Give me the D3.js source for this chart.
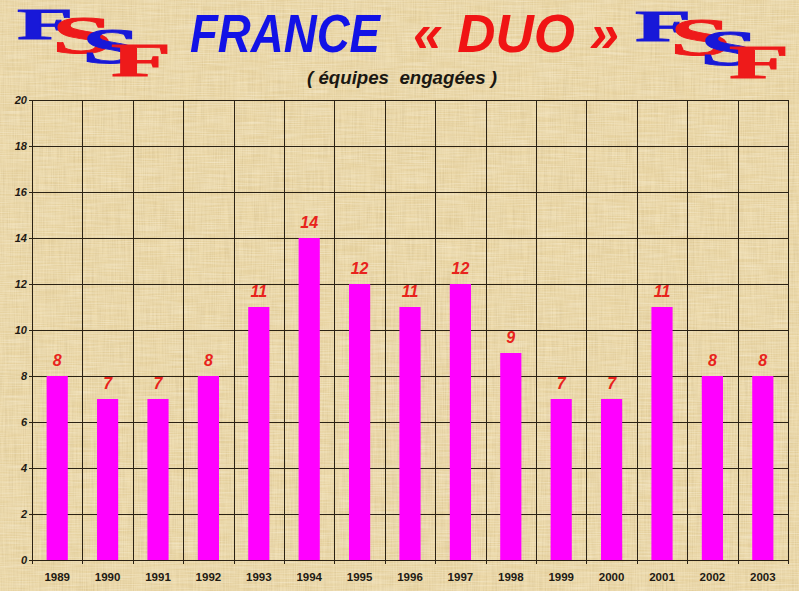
<!DOCTYPE html>
<html>
<head>
<meta charset="utf-8">
<script src="https://cdn.jsdelivr.net/npm/d3@7"></script>
<style>
  html, body { margin: 0; padding: 0; background: #e9d6a8; }
  svg { display: block; }
</style>
</head>
<body>
<div id="chart"></div>
<script>
// data
const years = ["1989", "1990", "1991", "1992", "1993", "1994", "1995", "1996",
               "1997", "1998", "1999", "2000", "2001", "2002", "2003"];
const teams = [8, 7, 7, 8, 11, 14, 12, 11, 12, 9, 7, 7, 11, 8, 8];
const yTicks = [0, 2, 4, 6, 8, 10, 12, 14, 16, 18, 20];

const width = 799, height = 591;
const margin = {top: 100, right: 11, bottom: 31, left: 32};

const svg = d3.select("#chart").append("svg")
    .attr("width", width)
    .attr("height", height);

// papyrus background
const defs = svg.append("defs");
const fib = defs.append("filter").attr("id", "fibres")
    .attr("x", 0).attr("y", 0).attr("width", "100%").attr("height", "100%");
fib.append("feTurbulence")
    .attr("type", "fractalNoise")
    .attr("baseFrequency", "0.9 0.03")
    .attr("numOctaves", 2)
    .attr("seed", 3);
fib.append("feColorMatrix")
    .attr("values", "0 0 0 0 0.55  0 0 0 0 0.42  0 0 0 0 0.2  0 0 0 -1.6 1.1");
const fib2 = defs.append("filter").attr("id", "fibres2")
    .attr("x", 0).attr("y", 0).attr("width", "100%").attr("height", "100%");
fib2.append("feTurbulence")
    .attr("type", "fractalNoise")
    .attr("baseFrequency", "0.03 0.9")
    .attr("numOctaves", 2)
    .attr("seed", 7);
fib2.append("feColorMatrix")
    .attr("values", "0 0 0 0 1  0 0 0 0 0.96  0 0 0 0 0.85  0 0 0 -1.6 1.1");

svg.append("rect").attr("width", width).attr("height", height).attr("fill", "#ebd7a6");
svg.append("rect").attr("width", width).attr("height", height)
    .attr("filter", "url(#fibres)").attr("opacity", 0.35);
svg.append("rect").attr("width", width).attr("height", height)
    .attr("filter", "url(#fibres2)").attr("opacity", 0.4);

// scales
const x = d3.scaleBand()
    .domain(years)
    .range([margin.left, width - margin.right])
    .paddingInner(0).paddingOuter(0);

const y = d3.scaleLinear()
    .domain([0, 20])
    .range([height - margin.bottom, margin.top]);

const gridColor = "#2b2214";

// horizontal grid
svg.append("g")
    .selectAll("line")
    .data(yTicks)
    .join("line")
    .attr("x1", margin.left - 3)
    .attr("x2", width - margin.right)
    .attr("y1", d => Math.round(y(d)) + 0.5)
    .attr("y2", d => Math.round(y(d)) + 0.5)
    .attr("stroke", gridColor)
    .attr("stroke-width", 1);

// vertical grid at band edges
const edges = years.map(d => x(d)).concat([width - margin.right]);
svg.append("g")
    .selectAll("line")
    .data(edges)
    .join("line")
    .attr("x1", d => Math.round(d) + 0.5)
    .attr("x2", d => Math.round(d) + 0.5)
    .attr("y1", margin.top)
    .attr("y2", height - margin.bottom + 4)
    .attr("stroke", gridColor)
    .attr("stroke-width", 1);

// bars
const barW = x.bandwidth() * 0.42;
svg.append("g")
    .selectAll("rect")
    .data(teams)
    .join("rect")
    .attr("x", (d, i) => x(years[i]) + (x.bandwidth() - barW) / 2)
    .attr("y", d => y(d))
    .attr("width", barW)
    .attr("height", d => y(0) - y(d))
    .attr("fill", "#ff00ff");

// value labels
svg.append("g")
    .selectAll("text")
    .data(teams)
    .join("text")
    .attr("x", (d, i) => x(years[i]) + x.bandwidth() / 2)
    .attr("y", d => y(d) - 10)
    .attr("text-anchor", "middle")
    .attr("font-family", "Liberation Sans, Arial, sans-serif")
    .attr("font-weight", "bold")
    .attr("font-style", "italic")
    .attr("font-size", 16)
    .attr("fill", "#e8231c")
    .text(d => d);

// y axis labels
svg.append("g")
    .selectAll("text")
    .data(yTicks)
    .join("text")
    .attr("x", margin.left - 5)
    .attr("y", d => y(d) + 4)
    .attr("text-anchor", "end")
    .attr("font-family", "Liberation Sans, Arial, sans-serif")
    .attr("font-weight", "bold")
    .attr("font-style", "italic")
    .attr("font-size", 11)
    .attr("fill", "#1e1a14")
    .text(d => d);

// x axis labels
svg.append("g")
    .selectAll("text")
    .data(years)
    .join("text")
    .attr("x", d => x(d) + x.bandwidth() / 2)
    .attr("y", height - margin.bottom + 21)
    .attr("text-anchor", "middle")
    .attr("font-family", "Liberation Sans, Arial, sans-serif")
    .attr("font-weight", "bold")
    .attr("font-size", 11.5)
    .attr("fill", "#1e1a14")
    .text(d => d);

// title
svg.append("text")
    .attr("x", 190).attr("y", 52)
    .attr("font-family", "Liberation Sans, Arial, sans-serif")
    .attr("font-weight", "bold").attr("font-style", "italic")
    .attr("font-size", 54)
    .attr("textLength", 190).attr("lengthAdjust", "spacingAndGlyphs")
    .attr("fill", "#1212e6")
    .text("FRANCE");

svg.append("text")
    .attr("x", 413).attr("y", 52)
    .attr("font-family", "Liberation Sans, Arial, sans-serif")
    .attr("font-weight", "bold").attr("font-style", "italic")
    .attr("font-size", 54)
    .attr("textLength", 206).attr("lengthAdjust", "spacingAndGlyphs")
    .attr("fill", "#f01414")
    .text("« DUO »");

svg.append("text")
    .attr("x", 307).attr("y", 84)
    .attr("font-family", "Liberation Sans, Arial, sans-serif")
    .attr("font-weight", "bold").attr("font-style", "italic")
    .attr("font-size", 18)
    .attr("textLength", 190).attr("lengthAdjust", "spacingAndGlyphs")
    .attr("fill", "#1a1712")
    .style("white-space", "pre")
    .text("( équipes  engagées )");

// FSF logos: one text, letters placed by tspans, stretched horizontally
const logoSX = 2.1;
const logoLetters = [
    {ch: "F", x: 17, y: 39, size: 44, color: "#1818d8"},
    {ch: "S", x: 52, y: 53, size: 52, color: "#ee1a1a"},
    {ch: "S", x: 82, y: 63, size: 50, color: "#1818d8"},
    {ch: "F", x: 111, y: 76, size: 47, color: "#ee1a1a"}
];

function drawLogo(dx, dy) {
    const t = svg.append("text")
        .attr("transform", `translate(${dx},${dy}) scale(${logoSX},1)`)
        .attr("font-family", "Liberation Serif, Times New Roman, serif")
        .attr("font-weight", "bold");
    t.selectAll("tspan")
        .data(logoLetters)
        .join("tspan")
        .attr("x", d => d.x / logoSX)
        .attr("y", d => d.y)
        .attr("font-size", d => d.size)
        .attr("fill", d => d.color)
        .attr("stroke", d => d.color)
        .attr("stroke-width", 0.8)
        .text(d => d.ch);
}
drawLogo(0, 0);
drawLogo(618, 2);
</script>
</body>
</html>
